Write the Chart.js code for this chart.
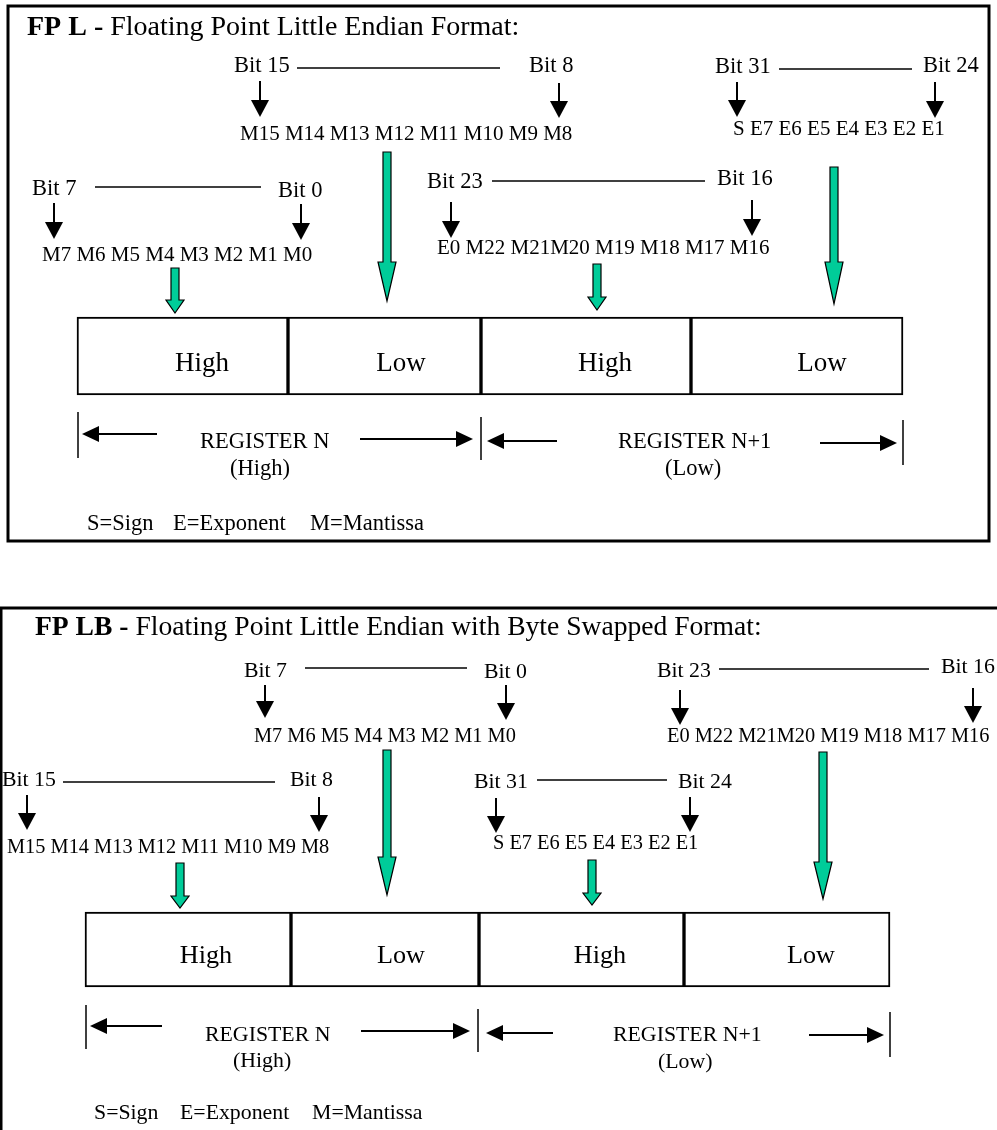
<!DOCTYPE html>
<html>
<head>
<meta charset="utf-8">
<script src="https://cdn.jsdelivr.net/npm/chart.js@4.4.1/dist/chart.umd.min.js"></script>
<style>
  body { margin: 0; background: #fff; }
  #wrap { width: 997px; height: 1130px; }
</style>
</head>
<body>
<div id="wrap"><canvas id="c"></canvas></div>
<script>
// text content of the two diagrams
var panelTitles = ["FP L -", "FP LB -"];
var panelSubtitles = ["Floating Point Little Endian Format:",
                      "Floating Point Little Endian with Byte Swapped Format:"];
var highBits = [["Bit 15", "Bit 31", "Bit 7", "Bit 23"],
                ["Bit 7", "Bit 23", "Bit 15", "Bit 31"]];
var lowBits = [["Bit 8", "Bit 24", "Bit 0", "Bit 16"],
               ["Bit 0", "Bit 16", "Bit 8", "Bit 24"]];
var bitRows = [["M15 M14 M13 M12 M11 M10 M9 M8", "S E7 E6 E5 E4 E3 E2 E1",
                "M7 M6 M5 M4 M3 M2 M1 M0", "E0 M22 M21M20 M19 M18 M17 M16"],
               ["M7 M6 M5 M4 M3 M2 M1 M0", "E0 M22 M21M20 M19 M18 M17 M16",
                "M15 M14 M13 M12 M11 M10 M9 M8", "S E7 E6 E5 E4 E3 E2 E1"]];
var cellLabels = ["High", "Low", "High", "Low"];
var registerNames = ["REGISTER N", "REGISTER N+1"];
var registerHalves = ["(High)", "(Low)"];
var legendItems = ["S=Sign", "E=Exponent", "M=Mantissa"];

// where things go, in diagram units (x 0..997, y 0..1130 downwards)
var layout = [
  {
    frame: {x1: 8, y1: 6, x2: 989, y2: 541, open: false},
    title: [27, 35], titleSize: 28, textScale: 1,
    groups: [
      {hi: [234, 72], lo: [529, 72], line: [297, 500, 68], arrows: [[260, 81, 117], [559, 83, 118]], row: [240, 140]},
      {hi: [715, 73], lo: [923, 72], line: [779, 912, 69], arrows: [[737, 82, 117], [935, 82, 118]], row: [733, 135]},
      {hi: [32, 195], lo: [278, 197], line: [95, 261, 187], arrows: [[54, 203, 239], [301, 204, 240]], row: [42, 261]},
      {hi: [427, 188], lo: [717, 185], line: [492, 705, 181], arrows: [[451, 202, 238], [752, 200, 236]], row: [437, 254]}
    ],
    cells: {edges: [77, 288, 481, 691, 903], top: 317, bottom: 395, labelX: [202, 401, 605, 822], labelY: 371},
    feeds: [[175, 268, 300, 313], [387, 152, 262, 301], [597, 264, 297, 310], [834, 167, 262, 304]],
    reg: {
      bars: [[78, 412, 458], [481, 417, 460], [903, 420, 465]],
      arrows: [[157, 82, 434], [360, 473, 439], [557, 487, 441], [820, 897, 443]],
      names: [[200, 448], [618, 448]],
      halves: [[230, 475], [665, 475]]
    },
    legend: {x: [87, 173, 310], y: 530}
  },
  {
    frame: {x1: 1, y1: 608, x2: 997, y2: 1130, open: true},
    title: [35, 635], titleSize: 27.6, textScale: 0.97,
    groups: [
      {hi: [244, 677], lo: [484, 678], line: [305, 467, 668], arrows: [[265, 685, 718], [506, 685, 720]], row: [254, 742]},
      {hi: [657, 677], lo: [941, 673], line: [719, 929, 669], arrows: [[680, 690, 725], [973, 688, 723]], row: [667, 742]},
      {hi: [2, 786], lo: [290, 786], line: [63, 275, 782], arrows: [[27, 795, 830], [319, 797, 832]], row: [7, 853]},
      {hi: [474, 788], lo: [678, 788], line: [537, 667, 780], arrows: [[496, 798, 833], [690, 797, 832]], row: [493, 849]}
    ],
    cells: {edges: [85, 291, 479, 684, 890], top: 912, bottom: 987, labelX: [206, 401, 600, 811], labelY: 963},
    feeds: [[180, 863, 896, 908], [387, 750, 857, 895], [592, 860, 893, 905], [823, 752, 862, 899]],
    reg: {
      bars: [[86, 1005, 1049], [478, 1009, 1052], [890, 1012, 1057]],
      arrows: [[162, 90, 1026], [361, 470, 1031], [553, 486, 1033], [809, 884, 1035]],
      names: [[205, 1041], [613, 1041]],
      halves: [[233, 1067], [658, 1068]]
    },
    legend: {x: [94, 180, 312], y: 1119}
  }
];

var SERIF = '"Liberation Serif", "Times New Roman", serif';
var GREEN = '#00cc99';

// register cells become floating horizontal bars
function cellBars(p) {
  var c = layout[p].cells;
  var out = [];
  for (var i = 0; i < cellLabels.length; i++) {
    out.push({x: [c.edges[i], c.edges[i + 1]], y: (c.top + c.bottom) / 2});
  }
  return out;
}

var datasets = [];
for (var p = 0; p < layout.length; p++) {
  datasets.push({
    label: registerNames[p],
    data: cellBars(p),
    backgroundColor: '#ffffff',
    borderColor: '#000000',
    borderWidth: 2,
    borderSkipped: false,
    grouped: false,
    barThickness: layout[p].cells.bottom - layout[p].cells.top
  });
}

var diagramPlugin = {
  id: 'diagram',
  afterDatasetsDraw: function(chart) {
    var ctx = chart.ctx;
    var X = function(v) { return chart.scales.x.getPixelForValue(v); };
    var Y = function(v) { return chart.scales.y.getPixelForValue(v); };

    function text(str, x, y, size, bold, align) {
      ctx.font = (bold ? 'bold ' : '') + size + 'px ' + SERIF;
      ctx.fillStyle = '#000';
      ctx.textAlign = align || 'left';
      ctx.textBaseline = 'alphabetic';
      ctx.fillText(str, X(x), Y(y));
      return ctx.measureText(str).width;
    }
    function line(x1, y1, x2, y2, w) {
      ctx.beginPath();
      ctx.moveTo(X(x1), Y(y1));
      ctx.lineTo(X(x2), Y(y2));
      ctx.lineWidth = w;
      ctx.strokeStyle = '#000';
      ctx.stroke();
    }
    function downArrow(x, y1, y2) {
      var head = 17;
      line(x, y1, x, y2 - head, 2);
      ctx.beginPath();
      ctx.moveTo(X(x - 9), Y(y2 - head));
      ctx.lineTo(X(x + 9), Y(y2 - head));
      ctx.lineTo(X(x), Y(y2));
      ctx.closePath();
      ctx.fillStyle = '#000';
      ctx.fill();
    }
    function sideArrow(tail, tip, y) {
      var dir = tip > tail ? 1 : -1;
      var head = 17;
      line(tail, y, tip - dir * head, y, 2);
      ctx.beginPath();
      ctx.moveTo(X(tip - dir * head), Y(y - 8));
      ctx.lineTo(X(tip - dir * head), Y(y + 8));
      ctx.lineTo(X(tip), Y(y));
      ctx.closePath();
      ctx.fillStyle = '#000';
      ctx.fill();
    }
    function feedArrow(f) {
      var x = f[0], top = f[1], head = f[2], tip = f[3];
      ctx.beginPath();
      ctx.moveTo(X(x - 4), Y(top));
      ctx.lineTo(X(x + 4), Y(top));
      ctx.lineTo(X(x + 4), Y(head));
      ctx.lineTo(X(x + 9), Y(head));
      ctx.lineTo(X(x), Y(tip));
      ctx.lineTo(X(x - 9), Y(head));
      ctx.lineTo(X(x - 4), Y(head));
      ctx.closePath();
      ctx.fillStyle = GREEN;
      ctx.fill();
      ctx.lineWidth = 1.2;
      ctx.strokeStyle = '#000';
      ctx.stroke();
    }

    ctx.save();
    for (var p = 0; p < layout.length; p++) {
      var L = layout[p];
      var s = L.textScale;
      var f = L.frame;
      ctx.lineWidth = 3;
      ctx.strokeStyle = '#000';
      if (f.open) {
        ctx.beginPath();
        ctx.moveTo(X(f.x2), Y(f.y1));
        ctx.lineTo(X(f.x1), Y(f.y1));
        ctx.lineTo(X(f.x1), Y(f.y2));
        ctx.stroke();
      } else {
        ctx.strokeRect(X(f.x1), Y(f.y1), X(f.x2) - X(f.x1), Y(f.y2) - Y(f.y1));
      }

      var w = text(panelTitles[p] + ' ', L.title[0], L.title[1], L.titleSize, true);
      text(panelSubtitles[p], L.title[0] + w, L.title[1], L.titleSize, false);

      for (var g = 0; g < L.groups.length; g++) {
        var G = L.groups[g];
        text(highBits[p][g], G.hi[0], G.hi[1], 22.5 * s);
        text(lowBits[p][g], G.lo[0], G.lo[1], 22.5 * s);
        line(G.line[0], G.line[2], G.line[1], G.line[2], 1.5);
        downArrow(G.arrows[0][0], G.arrows[0][1], G.arrows[0][2]);
        downArrow(G.arrows[1][0], G.arrows[1][1], G.arrows[1][2]);
        text(bitRows[p][g], G.row[0], G.row[1], 21 * s);
      }

      L.feeds.forEach(feedArrow);

      for (var i = 0; i < cellLabels.length; i++) {
        text(cellLabels[i], L.cells.labelX[i], L.cells.labelY, 27 * s, false, 'center');
      }

      var R = L.reg;
      R.bars.forEach(function(b) { line(b[0], b[1], b[0], b[2], 1.5); });
      R.arrows.forEach(function(a) { sideArrow(a[0], a[1], a[2]); });
      for (var k = 0; k < registerNames.length; k++) {
        text(registerNames[k], R.names[k][0], R.names[k][1], 22.5 * s);
        text(registerHalves[k], R.halves[k][0], R.halves[k][1], 22.5 * s);
      }

      for (var m = 0; m < legendItems.length; m++) {
        text(legendItems[m], L.legend.x[m], L.legend.y, 22.5 * s);
      }
    }
    ctx.restore();
  }
};

var chart = new Chart(document.getElementById('c'), {
  type: 'bar',
  data: {datasets: datasets},
  options: {
    indexAxis: 'y',
    responsive: true,
    maintainAspectRatio: false,
    animation: false,
    events: [],
    layout: {padding: 0},
    plugins: {legend: {display: false}, tooltip: {enabled: false}},
    scales: {
      x: {type: 'linear', min: 0, max: 997, offset: false, display: false},
      y: {type: 'linear', min: 0, max: 1130, reverse: true, offset: false, display: false}
    }
  },
  plugins: [diagramPlugin]
});
</script>
</body>
</html>
